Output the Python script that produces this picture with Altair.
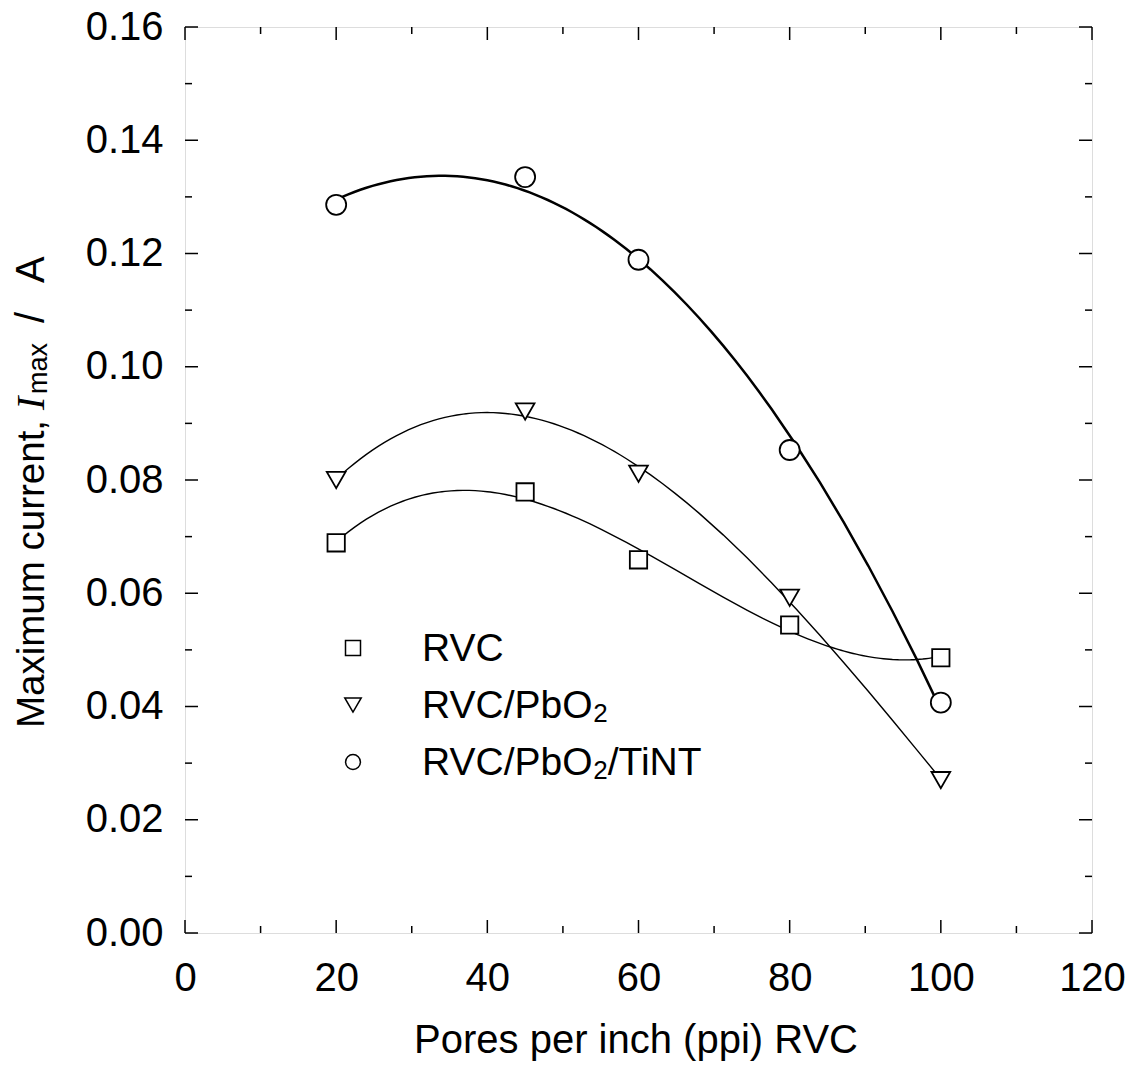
import altair as alt
import pandas as pd

# ---- data ----
x_ppi = [20, 45, 60, 80, 100]
series_names = ["RVC", "RVC/PbO2", "RVC/PbO2/TiNT"]
rvc = [0.0689, 0.0779, 0.0659, 0.0544, 0.0486]
rvc_pbo2 = [0.0800, 0.0921, 0.0811, 0.0592, 0.0270]
rvc_pbo2_tint = [0.1286, 0.1335, 0.1189, 0.0853, 0.0407]

major_x = [0, 20, 40, 60, 80, 100, 120]
minor_x = [10, 30, 50, 70, 90, 110]
major_y = [0.00, 0.02, 0.04, 0.06, 0.08, 0.10, 0.12, 0.14, 0.16]
minor_y = [0.01, 0.03, 0.05, 0.07, 0.09, 0.11, 0.13, 0.15]

rows = []
for name, vals in zip(series_names, [rvc, rvc_pbo2, rvc_pbo2_tint]):
    for xv, yv in zip(x_ppi, vals):
        rows.append({"series": name, "ppi": xv, "imax": yv})
df = pd.DataFrame(rows)

W, H = 907, 906
FONT = "Liberation Sans"
FS = 40
MAJ, MIN = 13, 7

xs = alt.Scale(domain=[0, 120], nice=False, zero=False)
ys = alt.Scale(domain=[0, 0.16], nice=False, zero=False)

x_axis = alt.Axis(values=major_x, title=None, ticks=False, tickSize=0, domain=False, grid=False,
                  labelFont=FONT, labelFontSize=FS, labelColor="black",
                  labelBaseline="alphabetic", labelPadding=57, labelFlush=False)
y_axis = alt.Axis(values=major_y, format=".2f", title=None, ticks=False, tickSize=0, domain=False,
                  grid=False, labelFont=FONT, labelFontSize=FS, labelColor="black",
                  labelPadding=22, labelBaseline="middle", labelFlush=False)

shape_scale = alt.Scale(domain=series_names, range=["square", "triangle-down", "circle"])
size_scale = alt.Scale(domain=series_names, range=[300, 400, 280])

base = alt.Chart(df)

# fitted curves (polynomial regression done by Vega-Lite)
fit_orders = [3, 3, 2]
fit_widths = [1.4, 1.4, 2.5]
curves = []
for name, order, lw in zip(series_names, fit_orders, fit_widths):
    curves.append(
        base.transform_filter(alt.datum.series == name).transform_regression(
            "ppi", "imax", method="poly", order=order, extent=[20, 100]
        ).mark_line(color="black", strokeWidth=lw).encode(
            x=alt.X("ppi:Q", scale=xs, axis=x_axis),
            y=alt.Y("imax:Q", scale=ys, axis=y_axis),
        )
    )

points = base.mark_point(filled=True, fill="white", stroke="black", strokeWidth=1.8, opacity=1).encode(
    x=alt.X("ppi:Q", scale=xs, axis=x_axis),
    y=alt.Y("imax:Q", scale=ys, axis=y_axis),
    shape=alt.Shape("series:N", scale=shape_scale, legend=None),
    size=alt.Size("series:N", scale=size_scale, legend=None),
)

def xticks(vals, length, top):
    c = alt.Chart(pd.DataFrame({"v": vals})).mark_rule(color="black", strokeWidth=1.5)
    if top:
        return c.encode(x=alt.X("v:Q", scale=xs, axis=x_axis), y=alt.value(0), y2=alt.value(length))
    return c.encode(x=alt.X("v:Q", scale=xs, axis=x_axis), y=alt.value(H), y2=alt.value(H - length))

def yticks(vals, length, right):
    c = alt.Chart(pd.DataFrame({"v": vals})).mark_rule(color="black", strokeWidth=1.5)
    if right:
        return c.encode(y=alt.Y("v:Q", scale=ys, axis=y_axis), x=alt.value(W), x2=alt.value(W - length))
    return c.encode(y=alt.Y("v:Q", scale=ys, axis=y_axis), x=alt.value(0), x2=alt.value(length))

ticks = [
    xticks(major_x, MAJ, False), xticks(minor_x, MIN, False),
    xticks(major_x, MAJ, True), xticks(minor_x, MIN, True),
    yticks(major_y, MAJ, False), yticks(minor_y, MIN, False),
    yticks(major_y, MAJ, True), yticks(minor_y, MIN, True),
]

def txt(text, x, y, size=FS, font=FONT, style="normal", angle=0, align="left"):
    return alt.Chart(alt.Data(values=[{}])).mark_text(
        text=text, font=font, fontSize=size, fontStyle=style, angle=angle,
        align=align, baseline="alphabetic", color="black"
    ).encode(x=alt.value(x), y=alt.value(y))

# axis titles (rich text built from pieces)
ytitle = [
    txt("Maximum current,", -141, 701, size=38.5, angle=270),
    txt("I", -141, 383, font="Liberation Serif", style="italic", angle=270),
    txt("max", -138, 367, size=27, angle=270),
    txt("/", -141, 296, angle=270),
    txt("A", -141, 256, angle=270),
]
xtitle = [txt("Pores per inch (ppi) RVC", 451, H + 120, align="center")]

# legend
legend_shapes = ["square", "triangle-down", "circle"]
legend_sizes = [225, 270, 220]
legend_rows_y = [621, 678, 735]
legend_marks = []
for name, shp, sz, yy in zip(series_names, legend_shapes, legend_sizes, legend_rows_y):
    legend_marks.append(
        alt.Chart(alt.Data(values=[{"series": name}])).mark_point(
            shape=shp, size=sz, filled=True, fill="white", stroke="black", strokeWidth=1.5, opacity=1
        ).encode(x=alt.value(168), y=alt.value(yy))
    )
LX = 237
LFS = 39
SUBX = LX + 4.39 * LFS
legend_text = [
    txt("RVC", LX, 634, size=LFS),
    txt("RVC/PbO", LX, 691, size=LFS),
    txt("2", SUBX, 695, size=26),
    txt("RVC/PbO", LX, 748, size=LFS),
    txt("2", SUBX, 752, size=26),
    txt("/TiNT", SUBX + 14.5, 748, size=LFS),
]

chart = alt.layer(
    *curves, points, *ticks, *ytitle, *xtitle, *legend_marks, *legend_text
).properties(
    width=W, height=H,
    autosize=alt.AutoSizeParams(type="none"),
    padding={"left": 177, "top": 19, "right": 35, "bottom": 133},
).configure_view(stroke="black", strokeWidth=2).configure(background="white")

chart.save("out.html", embed_options={"renderer": "svg", "actions": False})
